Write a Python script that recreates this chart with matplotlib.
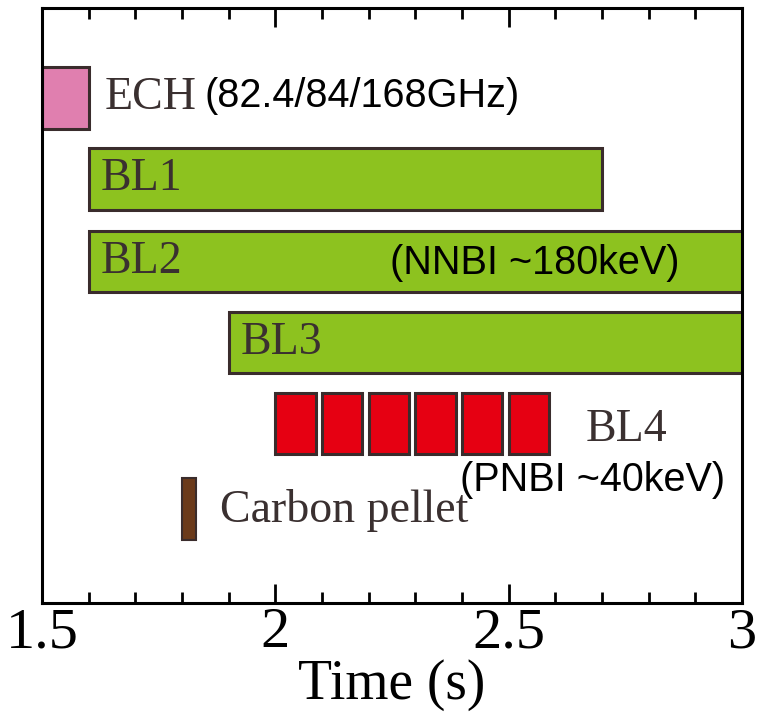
import matplotlib
matplotlib.use("Agg")
import matplotlib.pyplot as plt

# heating / fuelling timeline (time in s)
beams = ["ECH", "BL1", "BL2", "BL3"]
beam_start = [1.50, 1.60, 1.60, 1.90]
beam_end = [1.60, 2.70, 3.00, 3.00]
beam_row = [6.24, 5.24, 4.22, 3.22]
beam_color = ["#E07FAF", "#8DC21F", "#8DC21F", "#8DC21F"]

bl4_start = [2.00, 2.10, 2.20, 2.30, 2.40, 2.50]
bl4_len = [0.086, 0.086, 0.086, 0.086, 0.086, 0.086]
bl4_row = 2.22

pellet_t = [1.80, 1.83]
pellet_row = 1.16

xticks = [1.5, 2, 2.5, 3]
xticklabels = ["1.5", "2", "2.5", "3"]

H = 0.76
EDGE = "#3a2c2c"
TXT = "#3a3030"
serif = "Liberation Serif"
sans = "Liberation Sans"

fig = plt.figure(figsize=(7.6, 7.13), dpi=100)
ax = fig.add_axes([0.0553, 0.154, 0.9211, 0.835])

for s, e, r, c in zip(beam_start, beam_end, beam_row, beam_color):
    ax.barh(r, e - s, left=s, height=H, color=c, edgecolor=EDGE, linewidth=2.2, zorder=2)
for s, w in zip(bl4_start, bl4_len):
    ax.barh(bl4_row, w, left=s, height=H, color="#E60012", edgecolor=EDGE, linewidth=2.2, zorder=2)
ax.barh(pellet_row, pellet_t[1] - pellet_t[0], left=pellet_t[0], height=H,
        color="#6B3A1A", edgecolor=EDGE, linewidth=1.5, zorder=2)

# labels
ax.text(1.635, beam_row[0], "ECH", family=serif, fontsize=33, color=TXT, va="center")
ax.text(1.849, beam_row[0] + 0.02, "(82.4/84/168GHz)", family=sans, fontsize=28.5, color="black", va="center")
ax.text(1.625, beam_row[1], "BL1", family=serif, fontsize=33, color=TXT, va="center")
ax.text(1.625, beam_row[2], "BL2", family=serif, fontsize=33, color=TXT, va="center")
ax.text(2.246, beam_row[2] - 0.02, "(NNBI ~180keV)", family=sans, fontsize=28.5, color="black", va="center")
ax.text(1.925, beam_row[3], "BL3", family=serif, fontsize=33, color=TXT, va="center")
ax.text(2.665, bl4_row - 0.08, "BL4", family=serif, fontsize=33, color=TXT, va="center")
ax.text(2.396, bl4_row - 0.70, "(PNBI ~40keV)", family=sans, fontsize=28.5, color="black", va="center")
ax.text(1.882, pellet_row - 0.02, "Carbon pellet", family=serif, fontsize=33, color=TXT, va="center")

ax.set_xlim(1.5, 3.0)
ax.set_ylim(0, 7.35)
ax.set_xticks(xticks)
ax.set_xticklabels(xticklabels, family=serif, fontsize=42)
ax.set_xticks([1.6, 1.7, 1.8, 1.9, 2.1, 2.2, 2.3, 2.4, 2.6, 2.7, 2.8, 2.9], minor=True)
ax.set_yticks([])
ax.tick_params(axis="x", which="both", direction="in", top=True, width=2, pad=3)
ax.tick_params(axis="x", which="major", length=14)
ax.tick_params(axis="x", which="minor", length=8)
ax.set_xlabel("Time (s)", family=serif, fontsize=40, labelpad=0)
for sp in ax.spines.values():
    sp.set_linewidth(2.2)

fig.savefig("out.png", dpi=100)
